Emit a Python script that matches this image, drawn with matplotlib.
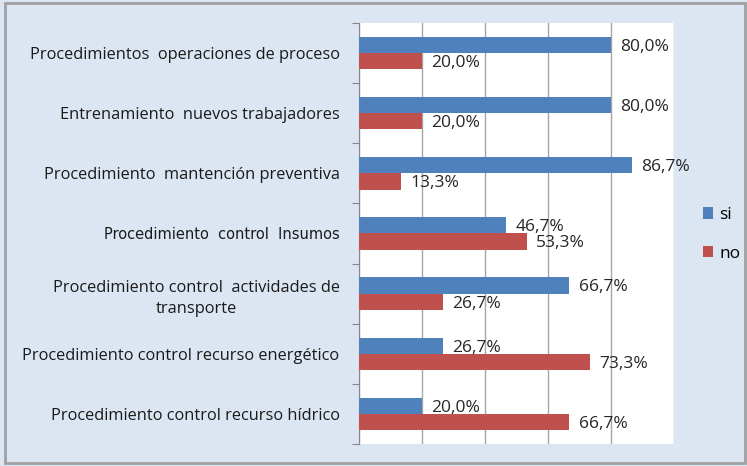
import numpy as np
import matplotlib.pyplot as plt
from matplotlib.patches import Rectangle

categories = ['Procedimientos  operaciones de proceso',
              'Entrenamiento  nuevos trabajadores',
              'Procedimiento  mantención preventiva',
              'Procedimiento  control  Insumos',
              'Procedimiento control  actividades de\ntransporte',
              'Procedimiento control recurso energético',
              'Procedimiento control recurso hídrico']
si_vals = [80.0, 80.0, 86.7, 46.7, 66.7, 26.7, 20.0]
no_vals = [20.0, 20.0, 13.3, 53.3, 26.7, 73.3, 66.7]

plt.rcParams['font.family'] = ['Open Sans', 'DejaVu Sans']

bg = '#dce6f2'
fig = plt.figure(figsize=(7.47, 4.66), dpi=100, facecolor=bg)
ax = fig.add_axes([0.4806, 0.047, 0.4217, 0.904])

def pct(v):
  return ('%.1f' % v).replace('.', ',') + '%'

ind = np.arange(len(categories))
h = 0.27
ax.barh(ind - h / 2, si_vals, height=h, color='#4f81bd', label='si', zorder=3)
ax.barh(ind + h / 2, no_vals, height=h, color='#c0504d', label='no', zorder=3)

for i in ind:
  ax.text(si_vals[i] + 3, i - h / 2 + 0.03, pct(si_vals[i]),
          va='center', ha='left', fontsize=12.5, color='#262626')
  ax.text(no_vals[i] + 3, i + h / 2 + 0.03, pct(no_vals[i]),
          va='center', ha='left', fontsize=12.5, color='#262626')

ax.set_xlim(0, 100)
ax.set_ylim(len(categories) - 0.5, -0.5)
ax.set_xticks([0, 20, 40, 60, 80, 100])
ax.set_xticklabels([])
ax.tick_params(axis='x', length=0)
ax.xaxis.grid(True, color='#a6a6a6', linewidth=1, zorder=0)

ax.set_yticks(np.arange(-0.5, len(categories), 1.0))
ax.set_yticklabels([])
ax.tick_params(axis='y', length=5, color='#868686')
ax.set_yticks(ind, minor=True)
labels = ax.set_yticklabels(categories, minor=True, fontsize=11.8, ha='right',
                            multialignment='center', color='#1a1a1a', linespacing=1.45)
labels[3].set_fontsize(10.5)
labels[3].set_family(['DejaVu Sans'])
ax.tick_params(axis='y', which='minor', length=0, pad=14)

for s in ['top', 'right', 'bottom']:
  ax.spines[s].set_visible(False)
ax.spines['left'].set_color('#868686')

fig.legend(loc='center left', bbox_to_anchor=(0.92, 0.497), frameon=False,
           fontsize=12.5, handlelength=0.6, handleheight=0.6, labelspacing=1.3,
           handletextpad=0.35)

fig.patches.append(Rectangle((0.007, 0.006), 0.99, 0.988, transform=fig.transFigure,
                             fill=False, edgecolor='#a0a0a0', linewidth=2))

plt.savefig('out.png', dpi=100, facecolor=bg)
